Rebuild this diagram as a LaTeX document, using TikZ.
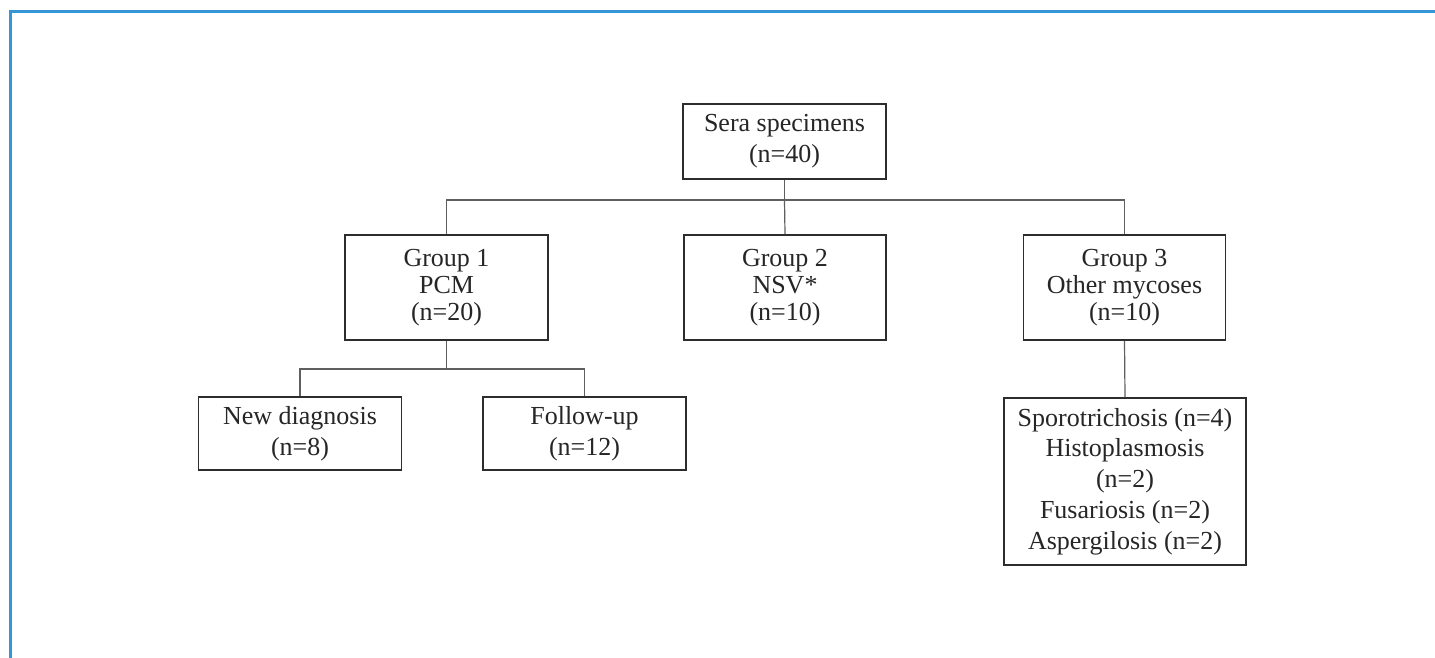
\documentclass[tikz,border=0pt]{standalone}
\usepackage{fontspec}
\setmainfont{Liberation Serif}
\definecolor{framecol}{RGB}{52,150,214}
\definecolor{boxcol}{RGB}{45,45,45}
\definecolor{linecol}{RGB}{95,95,95}
\begin{document}
\begin{tikzpicture}[x=0.5pt,y=-0.5pt,
  box/.style={draw=boxcol,line width=0.9pt,align=center,inner sep=0pt,
    font=\fontsize{13}{13.5}\selectfont,text=black!85},
  widebox/.style={box,font=\fontsize{13}{15.4}\selectfont},
  conn/.style={draw=linecol,line width=0.6pt}]
\useasboundingbox (0,0) rectangle (1435,658);
\fill[white] (0,0) rectangle (1435,658);
\draw[framecol,line width=1.1pt] (10.5,658) -- (10.5,11.5) -- (1435,11.5);

\node[widebox,minimum width=101.5pt,minimum height=37.5pt] (sera) at (784.5,141.5) {Sera specimens\\(n=40)};
\node[box,minimum width=101.5pt,minimum height=52.5pt] (g1) at (446.5,287.5) {Group 1\\PCM\\(n=20)};
\node[box,minimum width=101pt,minimum height=52.5pt] (g2) at (785,287.5) {Group 2\\NSV*\\(n=10)};
\node[box,minimum width=101pt,minimum height=52.5pt] (g3) at (1124.5,287.5) {Group 3\\Other mycoses\\(n=10)};
\node[widebox,minimum width=101.5pt,minimum height=36.5pt] (nd) at (300,433.5) {New diagnosis\\(n=8)};
\node[widebox,minimum width=101.5pt,minimum height=36.5pt] (fu) at (584.5,433.5) {Follow-up\\(n=12)};
\node[widebox,minimum width=121pt,minimum height=83.5pt] (sub) at (1125,481.5) {Sporotrichosis (n=4)\\Histoplasmosis\\(n=2)\\Fusariosis (n=2)\\Aspergilosis (n=2)};

\coordinate (b1) at (784.5,200);
\coordinate (b2) at (446.5,369);
\draw[conn] (sera.south) -- (b1);
\draw[conn] (g1.north) |- (b1) -| (g3.north);
\draw[conn] (b1) -- (g2.north);
\draw[conn] (g1.south) -- (b2);
\draw[conn] (nd.north) |- (b2) -| (fu.north);
\draw[conn] (g3.south) -- (sub.north);
\end{tikzpicture}
\end{document}
